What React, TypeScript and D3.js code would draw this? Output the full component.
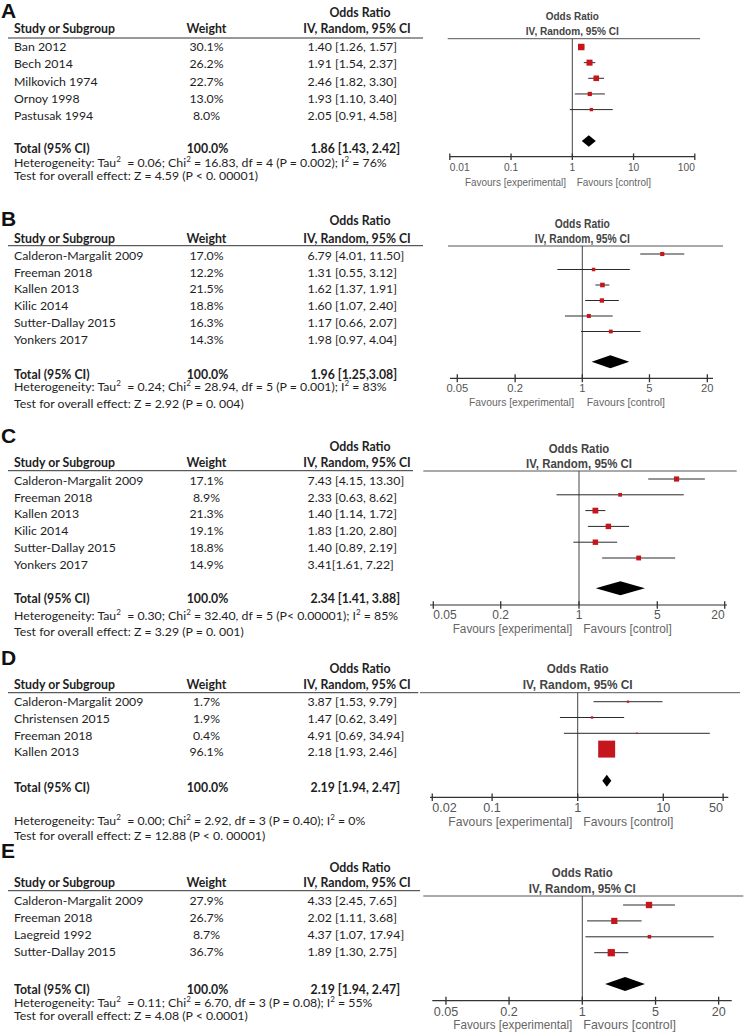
import React from 'react';
import * as d3 from 'd3';

// ---------------- DATA ----------------
// Panel A
const studiesA = ['Ban 2012', 'Bech 2014', 'Milkovich 1974', 'Ornoy 1998', 'Pastusak 1994'];
const weightsA = [30.1, 26.2, 22.7, 13.0, 8.0];
const orA = [1.40, 1.91, 2.46, 1.93, 2.05];
const lowA = [1.26, 1.54, 1.82, 1.10, 0.91];
const highA = [1.57, 2.37, 3.30, 3.40, 4.58];
const totalWeightA = 100.0;
const totalLabelA = '1.86 [1.43, 2.42]';
const diamondA = [1.43, 1.86, 2.42];
const hetA = ['0.06', '16.83', '4', 'P = 0.002', '76%'];
const testA = 'Test for overall effect: Z = 4.59 (P < 0. 00001)';
const ticksA = [0.01, 0.1, 1, 10, 100];
const tickLabelsA = ['0.01', '0.1', '1', '10', '100'];

// Panel B
const studiesB = ['Calderon-Margalit 2009', 'Freeman 2018', 'Kallen 2013', 'Kilic 2014', 'Sutter-Dallay 2015', 'Yonkers 2017'];
const weightsB = [17.0, 12.2, 21.5, 18.8, 16.3, 14.3];
const orB = [6.79, 1.31, 1.62, 1.60, 1.17, 1.98];
const lowB = [4.01, 0.55, 1.37, 1.07, 0.66, 0.97];
const highB = [11.50, 3.12, 1.91, 2.40, 2.07, 4.04];
const totalWeightB = 100.0;
const totalLabelB = '1.96 [1.25,3.08]';
const diamondB = [1.25, 1.96, 3.08];
const hetB = ['0.24', '28.94', '5', 'P = 0.001', '83%'];
const testB = 'Test for overall effect: Z = 2.92 (P = 0. 004)';
const ticksB = [0.05, 0.2, 1, 5, 20];
const tickLabelsB = ['0.05', '0.2', '1', '5', '20'];

// Panel C
const studiesC = ['Calderon-Margalit 2009', 'Freeman 2018', 'Kallen 2013', 'Kilic 2014', 'Sutter-Dallay 2015', 'Yonkers 2017'];
const weightsC = [17.1, 8.9, 21.3, 19.1, 18.8, 14.9];
const orC = [7.43, 2.33, 1.40, 1.83, 1.40, 3.41];
const lowC = [4.15, 0.63, 1.14, 1.20, 0.89, 1.61];
const highC = [13.30, 8.62, 1.72, 2.80, 2.19, 7.22];
const labelOverridesC: Record<number, string> = { 5: '3.41[1.61, 7.22]' };
const totalWeightC = 100.0;
const totalLabelC = '2.34 [1.41, 3.88]';
const diamondC = [1.41, 2.34, 3.88];
const hetC = ['0.30', '32.40', '5', 'P< 0.00001', '85%'];
const testC = 'Test for overall effect: Z = 3.29 (P = 0. 001)';
const ticksC = [0.05, 0.2, 1, 5, 20];
const tickLabelsC = ['0.05', '0.2', '1', '5', '20'];

// Panel D
const studiesD = ['Calderon-Margalit 2009', 'Christensen 2015', 'Freeman 2018', 'Kallen 2013'];
const weightsD = [1.7, 1.9, 0.4, 96.1];
const orD = [3.87, 1.47, 4.91, 2.18];
const lowD = [1.53, 0.62, 0.69, 1.93];
const highD = [9.79, 3.49, 34.94, 2.46];
const totalWeightD = 100.0;
const totalLabelD = '2.19 [1.94, 2.47]';
const diamondD = [1.94, 2.19, 2.47];
const hetD = ['0.00', '2.92', '3', 'P = 0.40', '0%'];
const testD = 'Test for overall effect: Z = 12.88 (P < 0. 00001)';
const ticksD = [0.02, 0.1, 1, 10, 50];
const tickLabelsD = ['0.02', '0.1', '1', '10', '50'];

// Panel E
const studiesE = ['Calderon-Margalit 2009', 'Freeman 2018', 'Laegreid 1992', 'Sutter-Dallay 2015'];
const weightsE = [27.9, 26.7, 8.7, 36.7];
const orE = [4.33, 2.02, 4.37, 1.89];
const lowE = [2.45, 1.11, 1.07, 1.30];
const highE = [7.65, 3.68, 17.94, 2.75];
const totalWeightE = 100.0;
const totalLabelE = '2.19 [1.94, 2.47]';
const diamondE = [1.65, 2.56, 3.96]; // as drawn in the figure
const hetE = ['0.11', '6.70', '3', 'P = 0.08', '55%'];
const testE = 'Test for overall effect: Z = 4.08 (P < 0.0001)';
const ticksE = [0.05, 0.2, 1, 5, 20];
const tickLabelsE = ['0.05', '0.2', '1', '5', '20'];

// ---------------- LAYOUT (styles / positions) ----------------
const fontL = 'Lato, "Open Sans", sans-serif';
const fontR = '"Liberation Sans", Arial, sans-serif';
const RED = '#c4161c';
const TXT = '#1e1e1e';

type Layout = {
  letterY: number; orTitleY: number; headY: number; ulY: number; ulEnd: number;
  rowY0: number; rowStep: number; totalY: number; hetY: number; testY: number;
  x1: number; dec: number; axisL: number; axisR: number; axisY: number;
  hlY: number; hlL: number; hlR: number; titleY: number; subY: number; titleW: number; subW: number; titleFs: number;
  tickY: number; tickFs: number; tickLen: number; edge: boolean;
  favY: number; favFs: number; favExpEnd: number; favExpW: number; favCtrlStart: number; favCtrlW: number;
  mY0: number; mStep: number; dY: number; dH: number; k: number;
};

const layouts: Layout[] = [
  { letterY: 17.5, orTitleY: 17.3, headY: 33, ulY: 38, ulEnd: 423,
    rowY0: 51, rowStep: 17.3, totalY: 153, hetY: 166.5, testY: 180,
    x1: 572.3, dec: 61.25, axisL: 450, axisR: 695, axisY: 156.7,
    hlY: 38.7, hlL: 447.7, hlR: 700, titleY: 20, subY: 34.5, titleW: 53, subW: 93, titleFs: 11.6,
    tickY: 170.7, tickFs: 10.2, tickLen: 3.3, edge: true,
    favY: 185.5, favFs: 10.7, favExpEnd: 566, favExpW: 101, favCtrlStart: 576.7, favCtrlW: 74.3,
    mY0: 47, mStep: 15.65, dY: 141, dH: 11.7, k: 1.18 },
  { letterY: 226, orTitleY: 225, headY: 243, ulY: 245.7, ulEnd: 423,
    rowY0: 259.6, rowStep: 16.93, totalY: 378.6, hetY: 391.3, testY: 408,
    x1: 582.3, dec: 96.1, axisL: 450, axisR: 713, axisY: 378.3,
    hlY: 246, hlL: 448, hlR: 723, titleY: 227.7, subY: 242.5, titleW: 55, subW: 95, titleFs: 13,
    tickY: 392.3, tickFs: 11.2, tickLen: 4, edge: false,
    favY: 405.7, favFs: 11.6, favExpEnd: 574, favExpW: 105, favCtrlStart: 586.7, favCtrlW: 78.3,
    mY0: 254, mStep: 15.5, dY: 361.7, dH: 13, k: 1.0 },
  { letterY: 442.7, orTitleY: 450.5, headY: 467, ulY: 470.7, ulEnd: 413,
    rowY0: 484.6, rowStep: 16.9, totalY: 603, hetY: 620, testY: 636,
    x1: 579, dec: 112, axisL: 430, axisR: 727, axisY: 605,
    hlY: 471, hlL: 423.3, hlR: 736.7, titleY: 452.7, subY: 468, titleW: 60.6, subW: 106, titleFs: 13,
    tickY: 618.5, tickFs: 12, tickLen: 3.7, edge: true,
    favY: 633.3, favFs: 12.5, favExpEnd: 572.3, favExpW: 119.6, favCtrlStart: 583.3, favCtrlW: 88.4,
    mY0: 479, mStep: 15.8, dY: 588.3, dH: 14, k: 1.25 },
  { letterY: 665, orTitleY: 673.3, headY: 689.3, ulY: 692.7, ulEnd: 418.3,
    rowY0: 706, rowStep: 16.8, totalY: 792, hetY: 825.3, testY: 839.6,
    x1: 577.7, dec: 85.6, axisL: 430, axisR: 728.3, axisY: 797.3,
    hlY: 692.7, hlL: 420, hlR: 740, titleY: 673.3, subY: 689, titleW: 62, subW: 110, titleFs: 12.6,
    tickY: 812.3, tickFs: 12.6, tickLen: 3.7, edge: true,
    favY: 826, favFs: 13, favExpEnd: 572.3, favExpW: 124, favCtrlStart: 583.3, favCtrlW: 90,
    mY0: 701.7, mStep: 15.8, dY: 780.7, dH: 12, k: 1.73 },
  { letterY: 858.3, orTitleY: 871.7, headY: 887, ulY: 890.7, ulEnd: 420,
    rowY0: 904.6, rowStep: 17.1, totalY: 993.6, hetY: 1007, testY: 1020.3,
    x1: 582.3, dec: 104.8, axisL: 432.3, axisR: 731.7, axisY: 1000.7,
    hlY: 896, hlL: 423.3, hlR: 743.3, titleY: 877.3, subY: 893, titleW: 61, subW: 107, titleFs: 13.5,
    tickY: 1015.7, tickFs: 12.6, tickLen: 4, edge: false,
    favY: 1029, favFs: 12.6, favExpEnd: 572.3, favExpW: 119, favCtrlStart: 583.3, favCtrlW: 92.7,
    mY0: 905, mStep: 15.9, dY: 984, dH: 14, k: 1.2 },
];

const fmt = (v: number) => v.toFixed(2);

const panels = [
  { letter: 'A', studies: studiesA, weights: weightsA, or: orA, low: lowA, high: highA, overrides: {} as Record<number, string>, totalWeight: totalWeightA, totalLabel: totalLabelA, diamond: diamondA, het: hetA, test: testA, ticks: ticksA, tickLabels: tickLabelsA },
  { letter: 'B', studies: studiesB, weights: weightsB, or: orB, low: lowB, high: highB, overrides: {} as Record<number, string>, totalWeight: totalWeightB, totalLabel: totalLabelB, diamond: diamondB, het: hetB, test: testB, ticks: ticksB, tickLabels: tickLabelsB },
  { letter: 'C', studies: studiesC, weights: weightsC, or: orC, low: lowC, high: highC, overrides: labelOverridesC, totalWeight: totalWeightC, totalLabel: totalLabelC, diamond: diamondC, het: hetC, test: testC, ticks: ticksC, tickLabels: tickLabelsC },
  { letter: 'D', studies: studiesD, weights: weightsD, or: orD, low: lowD, high: highD, overrides: {} as Record<number, string>, totalWeight: totalWeightD, totalLabel: totalLabelD, diamond: diamondD, het: hetD, test: testD, ticks: ticksD, tickLabels: tickLabelsD },
  { letter: 'E', studies: studiesE, weights: weightsE, or: orE, low: lowE, high: highE, overrides: {} as Record<number, string>, totalWeight: totalWeightE, totalLabel: totalLabelE, diamond: diamondE, het: hetE, test: testE, ticks: ticksE, tickLabels: tickLabelsE },
];

const Sup = ({ c }: { c: string }) => (
  <tspan baselineShift="super" fontSize="8">{c}</tspan>
);

function Panel({ p, L }: { p: typeof panels[number]; L: Layout }) {
  const x = d3.scaleLog().domain([1, 10]).range([L.x1, L.x1 + L.dec]);
  const rows = p.studies.map((s, i) => i);
  const fs = 12.3;
  const [dl, dm, dh] = p.diamond;
  const diamondPath = d3.line()([
    [x(dl), L.dY], [x(dm), L.dY - L.dH / 2], [x(dh), L.dY], [x(dm), L.dY + L.dH / 2],
  ]) + 'Z';
  return (
    <g>
      {/* ---------- Left table ---------- */}
      <text x={1} y={L.letterY} fontFamily={fontR} fontWeight="bold" fontSize={21} fill="#111">{p.letter}</text>
      <g fontFamily={fontL} fontSize={fs} fill={TXT}>
        <text x={360} y={L.orTitleY} textAnchor="middle" fontWeight="bold">Odds Ratio</text>
        <text x={14} y={L.headY} fontWeight="bold">Study or Subgroup</text>
        <text x={206.5} y={L.headY} textAnchor="middle" fontWeight="bold">Weight</text>
        <text x={357} y={L.headY} textAnchor="middle" fontWeight="bold">IV, Random, 95% CI</text>
        <line x1={8} x2={L.ulEnd} y1={L.ulY} y2={L.ulY} stroke="#333" strokeWidth={1} />
        {rows.map(i => {
          const y = L.rowY0 + i * L.rowStep;
          const label = p.overrides[i] ?? `${fmt(p.or[i])} [${fmt(p.low[i])}, ${fmt(p.high[i])}]`;
          return (
            <g key={i}>
              <text x={14} y={y}>{p.studies[i]}</text>
              <text x={206.5} y={y} textAnchor="middle">{p.weights[i].toFixed(1)}%</text>
              <text x={307.5} y={y}>{label}</text>
            </g>
          );
        })}
        <text x={14} y={L.totalY} fontWeight="bold">Total (95% CI)</text>
        <text x={207.5} y={L.totalY} textAnchor="middle" fontWeight="bold">{p.totalWeight.toFixed(1)}%</text>
        <text x={310.5} y={L.totalY} fontWeight="bold">{p.totalLabel}</text>
        <text x={14} y={L.hetY} style={{ whiteSpace: 'pre' }}>
          Heterogeneity: Tau<Sup c="2" />{`  = ${p.het[0]}; Chi`}<Sup c="2" />{` = ${p.het[1]}, df = ${p.het[2]} (${p.het[3]}); I`}<Sup c="2" />{` = ${p.het[4]}`}
        </text>
        <text x={14} y={L.testY} style={{ whiteSpace: 'pre' }}>{p.test}</text>
      </g>

      {/* ---------- Right forest plot ---------- */}
      <g fontFamily={fontR}>
        <text x={L.x1} y={L.titleY} textAnchor="middle" fontWeight="bold" fontSize={L.titleFs} fill="#444"
          textLength={L.titleW} lengthAdjust="spacingAndGlyphs">Odds Ratio</text>
        <text x={L.x1} y={L.subY} textAnchor="middle" fontWeight="bold" fontSize={L.titleFs} fill="#444"
          textLength={L.subW} lengthAdjust="spacingAndGlyphs">IV, Random, 95% CI</text>
        <line x1={L.hlL} x2={L.hlR} y1={L.hlY} y2={L.hlY} stroke="#555" strokeWidth={1} />
        <line x1={x(1)} x2={x(1)} y1={L.hlY} y2={L.axisY} stroke="#444" strokeWidth={1} />
        {rows.map(i => {
          const y = L.mY0 + i * L.mStep;
          const s = Math.max(1.6, L.k * Math.sqrt(p.weights[i]));
          return (
            <g key={i}>
              <line x1={x(p.low[i])} x2={x(p.high[i])} y1={y} y2={y} stroke="#2a2a2a" strokeWidth={1} />
              <rect x={x(p.or[i]) - s / 2} y={y - s / 2} width={s} height={s} fill={RED} />
            </g>
          );
        })}
        <path d={diamondPath} fill="#000" />
        <line x1={L.axisL} x2={L.axisR} y1={L.axisY} y2={L.axisY} stroke="#333" strokeWidth={1.2} />
        {p.ticks.map((t, j) => {
          const tx = x(t);
          const last = p.ticks.length - 1;
          const anchor = L.edge ? (j === 0 ? 'start' : j === last ? 'end' : 'middle') : 'middle';
          return (
            <g key={j}>
              <line x1={tx} x2={tx} y1={L.axisY - L.tickLen} y2={L.axisY + L.tickLen} stroke="#333" strokeWidth={1.3} />
              <text x={tx} y={L.tickY} textAnchor={anchor} fontSize={L.tickFs} fill="#555">{p.tickLabels[j]}</text>
            </g>
          );
        })}
        <text x={L.favExpEnd} y={L.favY} textAnchor="end" fontSize={L.favFs} fill="#666"
          textLength={L.favExpW} lengthAdjust="spacingAndGlyphs">Favours [experimental]</text>
        <text x={L.favCtrlStart} y={L.favY} fontSize={L.favFs} fill="#666"
          textLength={L.favCtrlW} lengthAdjust="spacingAndGlyphs">Favours [control]</text>
      </g>
    </g>
  );
}

export default function App() {
  return (
    <svg width={744} height={1032} viewBox="0 0 744 1032"
      style={{ position: 'absolute', left: 0, top: 0, background: '#fff' }}>
      <rect width={744} height={1032} fill="#fff" />
      {panels.map((p, i) => <Panel key={p.letter} p={p} L={layouts[i]} />)}
    </svg>
  );
}
